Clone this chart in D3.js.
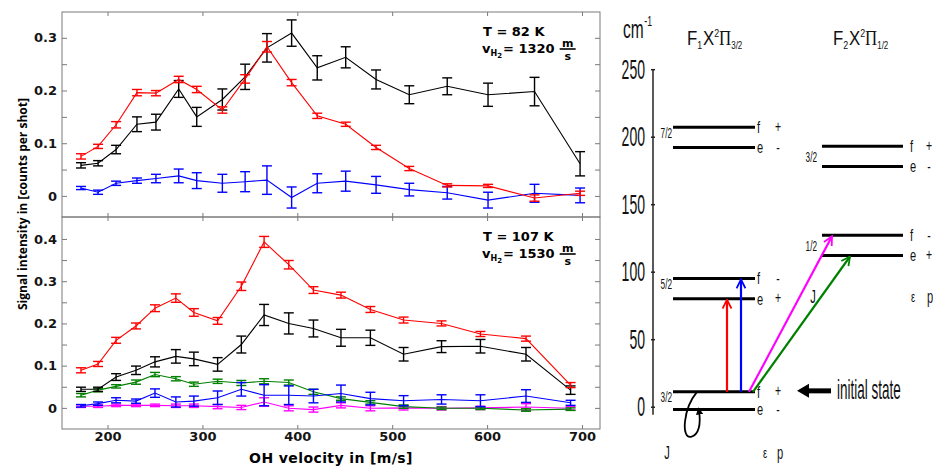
<!DOCTYPE html>
<html>
<head>
<meta charset="utf-8">
<script src="https://cdn.jsdelivr.net/npm/d3@7"></script>
<style>
  body { margin: 0; background: #fff; }
  svg { display: block; }
</style>
</head>
<body>
<svg id="chart" width="933" height="466"></svg>
<script>
// ---- data ----
const velTop = [172, 190, 209, 231, 251, 275, 294, 321, 345, 368, 394, 421, 451, 483, 518, 558, 601, 650, 698];
const velBottom = [172, 190, 209, 230, 250, 272, 291, 316, 341, 365, 391, 417, 446, 477, 512, 552, 593, 641, 688];

const topBlack    = [0.058, 0.062, 0.088, 0.136, 0.140, 0.203, 0.150, 0.183, 0.226, 0.281, 0.309, 0.243, 0.263, 0.221, 0.192, 0.208, 0.192, 0.198, 0.061];
const topBlackErr = [0.005, 0.005, 0.008, 0.014, 0.015, 0.016, 0.018, 0.020, 0.024, 0.027, 0.025, 0.023, 0.020, 0.018, 0.017, 0.016, 0.022, 0.027, 0.023];
const topRed      = [0.075, 0.094, 0.135, 0.196, 0.195, 0.221, 0.202, 0.163, 0.222, 0.283, 0.215, 0.152, 0.136, 0.092, 0.052, 0.020, 0.019, -0.004, 0.005];
const topRedErr   = [0.005, 0.004, 0.006, 0.006, 0.005, 0.006, 0.006, 0.006, 0.008, 0.010, 0.006, 0.005, 0.004, 0.004, 0.004, 0.003, 0.003, 0.006, 0.004];
const topBlue     = [0.015, 0.007, 0.024, 0.029, 0.033, 0.038, 0.029, 0.024, 0.027, 0.030, -0.003, 0.024, 0.028, 0.021, 0.012, 0.006, -0.008, 0.005, 0.001];
const topBlueErr  = [0.003, 0.004, 0.004, 0.005, 0.008, 0.013, 0.015, 0.017, 0.019, 0.027, 0.020, 0.018, 0.019, 0.016, 0.012, 0.012, 0.015, 0.017, 0.014];

const botRed      = [0.089, 0.104, 0.160, 0.194, 0.236, 0.260, 0.226, 0.206, 0.288, 0.393, 0.339, 0.279, 0.267, 0.233, 0.208, 0.200, 0.175, 0.164, 0.054];
const botRedErr   = [0.006, 0.006, 0.007, 0.007, 0.008, 0.010, 0.009, 0.008, 0.010, 0.013, 0.010, 0.008, 0.007, 0.007, 0.007, 0.006, 0.006, 0.006, 0.006];
const botBlack    = [0.044, 0.044, 0.073, 0.089, 0.109, 0.122, 0.116, 0.103, 0.150, 0.220, 0.200, 0.188, 0.166, 0.166, 0.127, 0.145, 0.146, 0.127, 0.042];
const botBlackErr = [0.005, 0.005, 0.008, 0.010, 0.012, 0.016, 0.016, 0.016, 0.020, 0.025, 0.025, 0.020, 0.020, 0.018, 0.016, 0.014, 0.016, 0.016, 0.010];
const botGreen    = [0.030, 0.042, 0.051, 0.061, 0.079, 0.069, 0.056, 0.063, 0.059, 0.063, 0.060, 0.038, 0.022, 0.013, 0.003, -0.001, -0.001, -0.005, -0.003];
const botGreenErr = [0.004, 0.004, 0.004, 0.005, 0.005, 0.005, 0.005, 0.005, 0.006, 0.006, 0.006, 0.006, 0.004, 0.004, 0.004, 0.003, 0.003, 0.003, 0.003];
const botBlue     = [0.005, 0.010, 0.018, 0.016, 0.035, 0.014, 0.016, 0.024, 0.044, 0.030, 0.030, 0.028, 0.034, 0.022, 0.017, 0.020, 0.017, 0.028, 0.012];
const botBlueErr  = [0.003, 0.004, 0.006, 0.005, 0.010, 0.012, 0.012, 0.016, 0.016, 0.025, 0.022, 0.016, 0.020, 0.015, 0.012, 0.011, 0.014, 0.015, 0.006];
const botMagenta    = [0.004, 0.004, 0.006, 0.006, 0.006, 0.005, 0.005, 0.003, 0.001, 0.014, -0.001, -0.004, 0.006, -0.001, 0.000, -0.001, 0.000, 0.002, -0.001];
const botMagentaErr = [0.003, 0.003, 0.003, 0.003, 0.003, 0.004, 0.004, 0.005, 0.005, 0.010, 0.006, 0.006, 0.006, 0.006, 0.005, 0.004, 0.004, 0.008, 0.004];

const xTicks = [200, 300, 400, 500, 600, 700];
const topYTicks = [0, 0.05, 0.1, 0.15, 0.2, 0.25, 0.3];
const botYTicks = [0, 0.05, 0.1, 0.15, 0.2, 0.25, 0.3, 0.35, 0.4];
const yLabelled = [0, 0.1, 0.2, 0.3, 0.4];
const noteTemps = ["T = 82 K", "T = 107 K"];
const noteSpeeds = ["1320", "1530"];

// energy level diagram (cm^-1)
const energyTicks = [0, 50, 100, 150, 200, 250];
const f1J = ["3/2", "5/2", "7/2"];
const f1UpperE = [11, 95, 207];
const f1LowerE = [-2, 80, 192];
const f1UpperP = ["+", "-", "+"];
const f1LowerP = ["-", "+", "-"];
const f2J = ["1/2", "3/2"];
const f2UpperE = [127, 193];
const f2LowerE = [112, 178];
const f2UpperP = ["-", "+"];
const f2LowerP = ["+", "-"];
const transColors = ["#ff0000", "#0000ff", "#ff00ff", "#008000"];
const transTargetE = [80, 95, 127, 112];
const initialE = 11;

// ---- setup ----
const svg = d3.select("#chart");
svg.append("rect").attr("width", 933).attr("height", 466).attr("fill", "#fff");

const boldFont = "DejaVu Sans, Verdana, sans-serif";
const frameColor = "#7a7a7a";

const x = d3.scaleLinear().domain([152, 719]).range([62, 600]);
const yTop = d3.scaleLinear().domain([-0.04, 0.349]).range([217, 12]);
const yBot = d3.scaleLinear().domain([-0.05, 0.452]).range([429, 217]);

const fmtY = d => d === 0 ? "0" : d3.format(".1f")(d);

function drawPanel(y, vel, series, yTicks, showXLabels, temp, speed) {
    const g = svg.append("g");
    const [x0, x1] = x.range();
    const [yb, yt] = y.range();

    g.append("rect")
        .attr("x", x0).attr("y", yt)
        .attr("width", x1 - x0).attr("height", yb - yt)
        .attr("fill", "none").attr("stroke", frameColor).attr("stroke-width", 1);

    const styleAxis = a => {
        a.select(".domain").remove();
        a.selectAll(".tick line").attr("stroke", frameColor);
        a.selectAll("text")
            .attr("font-family", boldFont).attr("font-weight", "bold")
            .attr("font-size", 13).attr("fill", "#151515");
    };

    g.append("g").attr("transform", `translate(${x0},0)`)
        .call(d3.axisLeft(y).tickValues(yTicks).tickSize(-5).tickPadding(5)
            .tickFormat(d => yLabelled.some(v => Math.abs(v - d) < 1e-9) ? fmtY(d) : ""))
        .call(styleAxis);
    g.append("g").attr("transform", `translate(${x1},0)`)
        .call(d3.axisRight(y).tickValues(yTicks).tickSize(-5).tickFormat(""))
        .call(styleAxis);
    g.append("g").attr("transform", `translate(0,${yt})`)
        .call(d3.axisTop(x).tickValues(xTicks).tickSize(-4).tickFormat(""))
        .call(styleAxis);
    g.append("g").attr("transform", `translate(0,${yb})`)
        .call(d3.axisBottom(x).tickValues(xTicks).tickSize(-4).tickPadding(3)
            .tickFormat(showXLabels ? d3.format("d") : ""))
        .call(styleAxis);

    const line = d3.line().x((d, i) => x(vel[i])).y(d => y(d));

    series.forEach(s => {
        g.append("path")
            .datum(s.values)
            .attr("fill", "none")
            .attr("stroke", s.color)
            .attr("stroke-width", 1.1)
            .attr("d", line);

        const bars = g.append("g").attr("stroke", s.color).attr("stroke-width", 1.4);
        s.values.forEach((v, i) => {
            const cx = x(vel[i]);
            const lo = y(v - s.err[i]), hi = y(v + s.err[i]);
            bars.append("line").attr("x1", cx).attr("x2", cx).attr("y1", lo).attr("y2", hi);
            bars.append("line").attr("x1", cx - 5).attr("x2", cx + 5).attr("y1", lo).attr("y2", lo);
            bars.append("line").attr("x1", cx - 5).attr("x2", cx + 5).attr("y1", hi).attr("y2", hi);
        });
    });

    // annotation
    const ax = 483;
    g.append("text")
        .attr("x", ax).attr("y", yt + 24)
        .attr("font-family", boldFont).attr("font-weight", "bold").attr("font-size", 13)
        .text(temp);
    const vt = g.append("text")
        .attr("x", ax - 1).attr("y", yt + 41)
        .attr("font-family", boldFont).attr("font-weight", "bold").attr("font-size", 13);
    vt.append("tspan").text("v");
    vt.append("tspan").attr("font-size", 8).attr("dy", 3).text("H");
    vt.append("tspan").attr("font-size", 7).attr("dy", 2).text("2");
    vt.append("tspan").attr("dy", -5).attr("dx", 1).text("= " + speed);
    const fx = ax - 1 + vt.node().getComputedTextLength() + 14;
    const by = yt + 37;
    g.append("line").attr("x1", fx - 8).attr("x2", fx + 8).attr("y1", by).attr("y2", by)
        .attr("stroke", "#000").attr("stroke-width", 1.6);
    g.append("text").attr("x", fx).attr("y", by - 2).attr("text-anchor", "middle")
        .attr("font-family", boldFont).attr("font-weight", "bold").attr("font-size", 11).text("m");
    g.append("text").attr("x", fx).attr("y", by + 11).attr("text-anchor", "middle")
        .attr("font-family", boldFont).attr("font-weight", "bold").attr("font-size", 11).text("s");
}

drawPanel(yTop, velTop, [
    {color: "#0000ff", values: topBlue, err: topBlueErr},
    {color: "#000000", values: topBlack, err: topBlackErr},
    {color: "#ff0000", values: topRed, err: topRedErr}
], topYTicks, false, noteTemps[0], noteSpeeds[0]);

drawPanel(yBot, velBottom, [
    {color: "#ff00ff", values: botMagenta, err: botMagentaErr},
    {color: "#008000", values: botGreen, err: botGreenErr},
    {color: "#0000ff", values: botBlue, err: botBlueErr},
    {color: "#000000", values: botBlack, err: botBlackErr},
    {color: "#ff0000", values: botRed, err: botRedErr}
], botYTicks, true, noteTemps[1], noteSpeeds[1]);

// axis titles
svg.append("text")
    .attr("transform", "translate(331,463)")
    .attr("text-anchor", "middle")
    .attr("font-family", boldFont).attr("font-weight", "bold").attr("font-size", 14)
    .attr("letter-spacing", 0.4)
    .text("OH velocity in [m/s]");

svg.append("text")
    .attr("transform", "translate(27,204) rotate(-90)")
    .attr("text-anchor", "middle")
    .attr("font-family", "Open Sans, sans-serif").attr("font-weight", 700).attr("font-size", 12)
    .attr("textLength", 212).attr("lengthAdjust", "spacingAndGlyphs")
    .text("Signal intensity in [counts per shot]");

// ---- energy level diagram ----
const narrowFont = "Liberation Sans, Arial, sans-serif";
const yE = d3.scaleLinear().domain([0, 250]).range([406.7, 69.2]);
const axisX = 653;

function nText(px, py, str, size, anchor, sx) {
    return svg.append("text")
        .attr("transform", `translate(${px},${py}) scale(${sx || 0.6},1)`)
        .attr("text-anchor", anchor || "start")
        .attr("dy", "0.35em")
        .attr("font-family", narrowFont)
        .attr("font-size", size)
        .attr("fill", "#111")
        .text(str);
}

svg.append("line")
    .attr("x1", axisX).attr("x2", axisX)
    .attr("y1", yE(250)).attr("y2", yE(-6))
    .attr("stroke", "#222").attr("stroke-width", 1.5);

const eAxis = svg.append("g").attr("transform", `translate(${axisX},0)`)
    .call(d3.axisLeft(yE).tickValues(energyTicks).tickSize(3).tickFormat(""));
eAxis.select(".domain").remove();
eAxis.selectAll(".tick line").attr("stroke", "#222").attr("stroke-width", 1.5).attr("x2", 2).attr("x1", -2);
energyTicks.forEach(v => nText(axisX - 8, yE(v), String(v), 27, "end", 0.52));

// header
const cm = svg.append("text")
    .attr("transform", "translate(623,38) scale(0.62,1)")
    .attr("font-family", narrowFont).attr("font-size", 25).attr("fill", "#111");
cm.append("tspan").text("cm");
cm.append("tspan").attr("font-size", 14).attr("dy", -12).attr("dx", 1).text("-1");

function stateTitle(px, n, omega) {
    const t = svg.append("text")
        .attr("transform", `translate(${px},45) scale(0.8,1)`)
        .attr("font-family", narrowFont).attr("font-size", 21).attr("fill", "#111");
    t.append("tspan").text("F");
    t.append("tspan").attr("font-size", 11).attr("dy", 4).text(n);
    t.append("tspan").attr("dy", -4).attr("dx", 1).text("X");
    t.append("tspan").attr("font-size", 11).attr("dy", -8).text("2");
    t.append("tspan").attr("dy", 8).attr("font-family", "Liberation Serif, serif").text("\u03a0");
    t.append("tspan").attr("font-size", 10).attr("dy", 4).text(omega);
}
stateTitle(687, "1", "3/2");
stateTitle(833, "2", "1/2");

// level lines
const f1x = [673, 755], f2x = [822, 903];
function drawLadder(xr, jLabels, upperE, lowerE, upperP, lowerP, labelMid, symX, parX) {
    jLabels.forEach((j, i) => {
        [[upperE[i], "f", upperP[i]], [lowerE[i], "e", lowerP[i]]].forEach(([e, sym, par]) => {
            svg.append("line")
                .attr("x1", xr[0]).attr("x2", xr[1])
                .attr("y1", yE(e)).attr("y2", yE(e))
                .attr("stroke", "#000").attr("stroke-width", 3);
            nText(symX, yE(e), sym, 17, "start", 0.65);
            nText(parX, yE(e) - (par === "+" ? 1 : 0), par, 16, "middle", 0.65);
        });
        const jy = labelMid ? (yE(upperE[i]) + yE(lowerE[i])) / 2 : yE(upperE[i]) + 5;
        const jx = labelMid ? xr[0] - 5 : xr[0] - 1;
        nText(jx, jy, j, 15, "end", 0.55);
    });
}
drawLadder(f1x, f1J, f1UpperE, f1LowerE, f1UpperP, f1LowerP, false, 757, 778);
drawLadder(f2x, f2J, f2UpperE, f2LowerE, f2UpperP, f2LowerP, true, 910, 929);

// quantum number column headers
nText(667, 453, "J", 18, "middle", 0.62);
nText(765, 453, "\u03b5", 15, "middle", 0.62);
nText(780, 453, "p", 18, "middle", 0.62);
nText(813, 297, "J", 18, "middle", 0.62);
nText(913, 297, "\u03b5", 15, "middle", 0.62);
nText(930, 297, "p", 18, "middle", 0.62);

// transition arrows
const defs = svg.append("defs");
transColors.forEach((c, i) => {
    defs.append("marker")
        .attr("id", "head" + i)
        .attr("viewBox", "0 0 10 10")
        .attr("refX", 9).attr("refY", 5)
        .attr("markerWidth", 5).attr("markerHeight", 5)
        .attr("markerUnits", "strokeWidth")
        .attr("orient", "auto")
        .append("path")
        .attr("d", "M1,1 L9,5 L1,9")
        .attr("fill", "none").attr("stroke", c).attr("stroke-width", 1.6);
});
const transStartX = [727, 741, 749, 753];
const transEndX = [727, 741, 832, 850];
transColors.forEach((c, i) => {
    svg.append("line")
        .attr("x1", transStartX[i]).attr("y1", yE(initialE))
        .attr("x2", transEndX[i]).attr("y2", yE(transTargetE[i]) + 1)
        .attr("stroke", c).attr("stroke-width", 2.2)
        .attr("marker-end", `url(#head${i})`);
});

// initial state pointer
const iy = yE(initialE) - 1;
svg.append("line").attr("x1", 831).attr("x2", 806).attr("y1", iy).attr("y2", iy)
    .attr("stroke", "#000").attr("stroke-width", 5);
svg.append("path")
    .attr("d", `M797,${iy} L809,${iy - 7} L809,${iy + 7} Z`)
    .attr("fill", "#000");
nText(837, iy - 1, "initial state", 27, "start", 0.5);

// curly arrow under the 3/2 doublet
defs.append("marker")
    .attr("id", "curlHead")
    .attr("viewBox", "0 0 10 10")
    .attr("refX", 5).attr("refY", 5)
    .attr("markerWidth", 4).attr("markerHeight", 4)
    .attr("markerUnits", "strokeWidth")
    .attr("orient", "auto")
    .append("path").attr("d", "M0,0 L10,5 L0,10 Z").attr("fill", "#000");
const cy0 = yE(initialE);
svg.append("path")
    .attr("d", `M697,${cy0} C683,${cy0 + 17} 681,${cy0 + 47} 691,${cy0 + 45} C699,${cy0 + 43} 701,${cy0 + 32} 699,${cy0 + 19}`)
    .attr("fill", "none").attr("stroke", "#000").attr("stroke-width", 1.8)
    .attr("marker-end", "url(#curlHead)");
</script>
</body>
</html>
